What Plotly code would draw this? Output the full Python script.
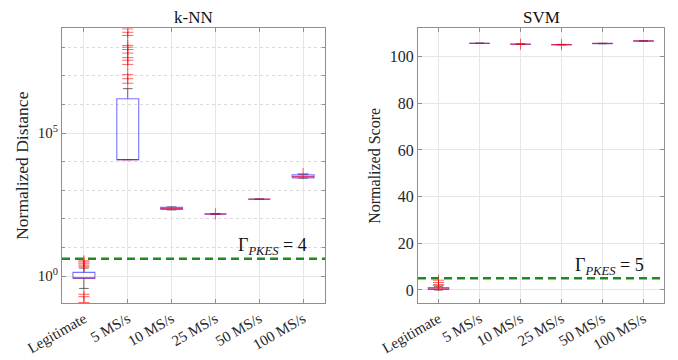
import plotly.graph_objects as go

# ---------------- data ----------------
categories = ["Legitimate", "5 MS/s", "10 MS/s", "25 MS/s", "50 MS/s", "100 MS/s"]

# k-NN (normalized distance, log scale)
knn_lower = [0.37, 1.17e4, 205, 142, 482, 2650]
knn_q1 = [0.83, 1.17e4, 214, 145, 486, 2700]
knn_median = [0.87, 1.17e4, 229, 148, 490, 3000]
knn_q3 = [1.35, 1.58e6, 251, 151, 494, 3450]
knn_upper = [1.9, 3.55e6, 262, 154, 498, 3500]
knn_outliers = [
    [3.4, 3.1, 2.7, 2.4, 2.1, 0.23, 0.19, 0.12],
    [4.37e8, 3.31e8, 2.57e8, 1.15e8, 1.0e8, 8.3e7, 6.2e7, 4.3e7, 3.5e7, 2.5e7, 1.1e7, 7.9e6, 5.5e6],
    [],
    [150],
    [],
    [3800],
]
knn_threshold = 4

# SVM (normalized score, linear)
svm_lower = [0.0, 105.6, 105.2, 105.0, 105.5, 106.55]
svm_q1 = [0.2, 105.65, 105.25, 105.05, 105.55, 106.6]
svm_median = [0.5, 105.7, 105.3, 105.1, 105.6, 106.7]
svm_q3 = [1.0, 105.75, 105.35, 105.15, 105.65, 106.8]
svm_upper = [1.4, 105.8, 105.4, 105.2, 105.7, 106.85]
svm_outliers = [[1.9, 2.4, 3.2, 4.2], [], [105.3], [105.1], [], []]
svm_threshold = 5

titles = ["k-NN", "SVM"]
ylabels = ["Normalized Distance", "Normalized Score"]

# ---------------- style ----------------
FONT = "Liberation Serif"
TXT = "#262626"
GRID = "#e6e6e6"
FRAME = "#8f8f8f"
BOX_W = 0.25      # half width of box
CAP_W = 0.11      # half width of whisker cap
RED = "rgba(255,0,0,0.6)"

fig = go.Figure()


def add_boxes(lower, q1, med, q3, upper, outliers, xa, ya):
    pos = list(range(1, len(categories) + 1))
    bx, by, mx, my, wx, wy, ox, oy = [], [], [], [], [], [], [], []
    for i, p in enumerate(pos):
        bx += [p - BOX_W, p + BOX_W, p + BOX_W, p - BOX_W, p - BOX_W, None]
        by += [q1[i], q1[i], q3[i], q3[i], q1[i], None]
        mx += [p - BOX_W, p + BOX_W, None]
        my += [med[i], med[i], None]
        wx += [p, p, None, p, p, None,
               p - CAP_W, p + CAP_W, None, p - CAP_W, p + CAP_W, None]
        wy += [q3[i], upper[i], None, q1[i], lower[i], None,
               upper[i], upper[i], None, lower[i], lower[i], None]
        for v in outliers[i]:
            ox.append(p)
            oy.append(v)
    fig.add_trace(go.Scatter(x=wx, y=wy, mode="lines", xaxis=xa, yaxis=ya,
                             line=dict(color="rgba(40,40,40,0.7)", width=1),
                             showlegend=False, hoverinfo="skip"))
    fig.add_trace(go.Scatter(x=bx, y=by, mode="lines", xaxis=xa, yaxis=ya,
                             line=dict(color="rgba(70,70,255,0.75)", width=1.1),
                             showlegend=False, hoverinfo="skip"))
    fig.add_trace(go.Scatter(x=mx, y=my, mode="lines", xaxis=xa, yaxis=ya,
                             line=dict(color="rgba(215,0,70,0.75)", width=1.2),
                             showlegend=False, hoverinfo="skip"))
    fig.add_trace(go.Scatter(x=ox, y=oy, mode="markers", xaxis=xa, yaxis=ya,
                             marker=dict(symbol="cross-thin-open", size=8, color=RED,
                                         line=dict(color=RED, width=1)),
                             showlegend=False, hoverinfo="skip"))


add_boxes(knn_lower, knn_q1, knn_median, knn_q3, knn_upper, knn_outliers, "x", "y")
add_boxes(svm_lower, svm_q1, svm_median, svm_q3, svm_upper, svm_outliers, "x2", "y2")

# threshold lines
for thr, xa, ya in [(knn_threshold, "x", "y"), (svm_threshold, "x2", "y2")]:
    fig.add_shape(type="line", xref=f"{xa} domain", yref=ya, x0=0, x1=1, y0=thr, y1=thr,
                  line=dict(color="#1f8a1f", width=2.5, dash="8px,5px"))

pos = list(range(1, len(categories) + 1))
xcommon = dict(range=[0.5, len(categories) + 0.5], tickvals=pos, ticktext=categories,
               tickangle=-30, ticks="inside", ticklen=4, tickcolor=FRAME,
               showline=True, linecolor=FRAME, linewidth=1, mirror="ticks",
               showgrid=True, gridcolor=GRID, zeroline=False, automargin=False,
               tickfont=dict(family=FONT, size=15, color=TXT))

Y0, Y1 = 1 - 303.3 / 360, 1 - 28.3 / 360
fig.update_layout(
    width=678, height=360,
    margin=dict(l=0, r=0, t=0, b=0, autoexpand=False),
    font=dict(family=FONT, size=15, color=TXT),
    paper_bgcolor="white", plot_bgcolor="white",
    xaxis=dict(domain=[62 / 678, 325 / 678], anchor="y", **xcommon),
    xaxis2=dict(domain=[418 / 678, 664 / 678], anchor="y2", **xcommon),
    yaxis=dict(domain=[Y0, Y1], anchor="x", type="log", range=[-0.952, 8.66],
               tickvals=[1, 1e5], ticktext=["10<sup>0</sup>", "10<sup>5</sup>"],
               ticks="inside", ticklen=4, tickcolor=FRAME,
               showline=True, linecolor=FRAME, linewidth=1, mirror="ticks",
               showgrid=True, gridcolor=GRID, zeroline=False, automargin=False,
               tickfont=dict(family=FONT, size=15, color=TXT),
               minor=dict(tickvals=[10, 100, 1e3, 1e4, 1e6, 1e7, 1e8],
                          showgrid=True, gridcolor="#dadada", griddash="dot",
                          ticks="inside", ticklen=3, tickcolor=FRAME)),
    yaxis2=dict(domain=[Y0, Y1], anchor="x2", range=[-5.7, 112.1],
                tickvals=[0, 20, 40, 60, 80, 100],
                ticks="inside", ticklen=4, tickcolor=FRAME,
                showline=True, linecolor=FRAME, linewidth=1, mirror="ticks",
                showgrid=True, gridcolor=GRID, zeroline=False, automargin=False,
                tickfont=dict(family=FONT, size=16, color=TXT)),
)

# titles and axis labels
xcent = [(62 + 325) / 2 / 678, (418 + 664) / 2 / 678]
ylabx = [22 / 678, 375 / 678]
ylabsize = [17.5, 16]
for i in range(2):
    fig.add_annotation(text=titles[i], xref="paper", yref="paper", x=xcent[i], y=1 - 17 / 360,
                       showarrow=False, font=dict(family=FONT, size=17, color="#111111"),
                       xanchor="center", yanchor="middle")
    fig.add_annotation(text=ylabels[i], xref="paper", yref="paper", x=ylabx[i], y=(Y0 + Y1) / 2,
                       textangle=-90, showarrow=False,
                       font=dict(family=FONT, size=ylabsize[i], color=TXT),
                       xanchor="center", yanchor="middle")

# threshold labels
fig.add_annotation(text=f"Γ<sub><i>PKES</i></sub> = {knn_threshold}", xref="paper", yref="paper",
                   x=309 / 678, y=1 - 246 / 360, xanchor="right", yanchor="middle",
                   showarrow=False, font=dict(family=FONT, size=18, color="#111111"))
fig.add_annotation(text=f"Γ<sub><i>PKES</i></sub> = {svm_threshold}", xref="paper", yref="paper",
                   x=646 / 678, y=1 - 266 / 360, xanchor="right", yanchor="middle",
                   showarrow=False, font=dict(family=FONT, size=18, color="#111111"))

fig.write_html("out.html")
